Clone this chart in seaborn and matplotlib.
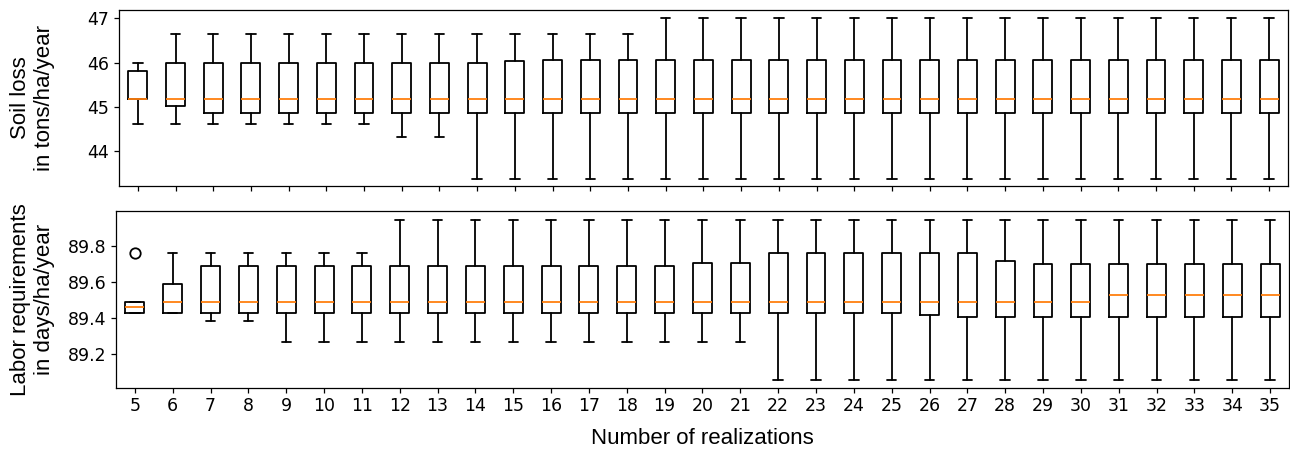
import matplotlib
matplotlib.use("Agg")
import matplotlib.pyplot as plt
import seaborn as sns

# x categories: number of realizations
realizations = list(range(5, 36))

# soil loss (tons/ha/year) box statistics, one value per realization count
soil_whislo = [44.62] * 7 + [44.31] * 2 + [43.38] * 22
soil_q1 = [45.18, 45.02] + [44.86] * 29
soil_med = [45.18] * 31
soil_q3 = [45.81] + [46.0] * 9 + [46.04] + [46.05] * 20
soil_whishi = [46.0] + [46.64] * 13 + [47.0] * 17

# labor requirements (days/ha/year) box statistics
labor_whislo = [89.428, 89.428, 89.383, 89.383] + [89.267] * 13 + [89.054] * 14
labor_q1 = [89.428] * 21 + [89.415] + [89.404] * 9
labor_med = [89.459] + [89.487] * 25 + [89.524] * 5
labor_q3 = ([89.487, 89.587] + [89.687] * 13 + [89.706] * 2
            + [89.758] * 6 + [89.713] + [89.70] * 7)
labor_whishi = [89.487] + [89.758] * 6 + [89.944] * 24
labor_fliers = {5: [89.758]}


def make_stats(lo, q1, med, q3, hi, fliers=None):
    fliers = fliers or {}
    stats = []
    for i, n in enumerate(realizations):
        stats.append({
            "whislo": lo[i], "q1": q1[i], "med": med[i],
            "q3": q3[i], "whishi": hi[i],
            "fliers": fliers.get(n, []),
        })
    return stats


sns.set_style("ticks")
plt.rcParams["font.family"] = ["DejaVu Sans"]
plt.rcParams["axes.edgecolor"] = "black"
plt.rcParams["axes.labelcolor"] = "black"
plt.rcParams["text.color"] = "black"
plt.rcParams["xtick.color"] = "black"
plt.rcParams["ytick.color"] = "black"

fig = plt.figure(figsize=(12.9, 4.51), dpi=100)
ax_top = fig.add_axes([0.0922, 0.5882, 0.9062, 0.3896])
ax_bot = fig.add_axes([0.0899, 0.1404, 0.9093, 0.3925])

lw = 1.3
box_kw = dict(
    positions=realizations,
    widths=0.5,
    boxprops=dict(color="black", linewidth=lw),
    whiskerprops=dict(color="black", linewidth=lw),
    capprops=dict(color="black", linewidth=lw),
    medianprops=dict(color="#ff7f0e", linewidth=lw),
    flierprops=dict(marker="o", markerfacecolor="none", markeredgewidth=1.3,
                    markeredgecolor="black", markersize=7.5),
)

ax_top.bxp(make_stats(soil_whislo, soil_q1, soil_med, soil_q3, soil_whishi), **box_kw)
ax_bot.bxp(make_stats(labor_whislo, labor_q1, labor_med, labor_q3, labor_whishi,
                      labor_fliers), **box_kw)

for ax in (ax_top, ax_bot):
    ax.set_xlim(4.5, 35.5)
    ax.set_xticks(realizations)
    ax.tick_params(axis="both", labelsize=12.5, length=3.5, width=0.9)
    for sp in ax.spines.values():
        sp.set_linewidth(0.9)

ax_top.set_xticklabels([])
ax_bot.set_xticklabels([str(n) for n in realizations])

ax_top.set_ylim(43.22, 47.19)
ax_top.set_yticks([44, 45, 46, 47])
ax_bot.set_ylim(89.011, 89.994)
ax_bot.set_yticks([89.2, 89.4, 89.6, 89.8])
ax_bot.set_yticklabels(["89.2", "89.4", "89.6", "89.8"])

label_font = dict(family=["Liberation Sans", "DejaVu Sans"], fontsize=16, color="black")
ax_top.set_ylabel("Soil loss\nin tons/ha/year", **label_font)
ax_bot.set_ylabel("Labor requirements\nin days/ha/year", **label_font)
ax_top.yaxis.set_label_coords(-0.0548, 0.5)
ax_bot.yaxis.set_label_coords(-0.0521, 0.5)
ax_bot.set_xlabel("Number of realizations", labelpad=9, **label_font)

fig.savefig("out.png", dpi=100)
